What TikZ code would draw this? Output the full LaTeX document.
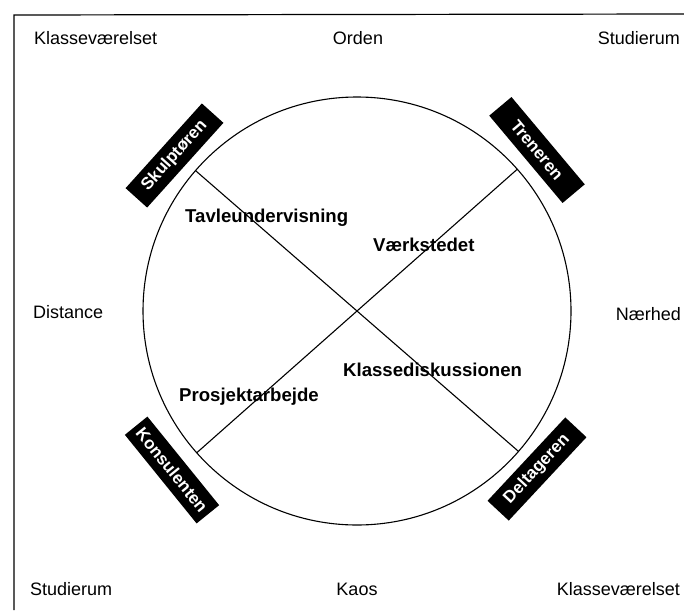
\documentclass[tikz,border=0pt]{standalone}
\usepackage{fontspec}
\setmainfont{Liberation Sans}
\tikzset{
  outer/.style={inner sep=0pt, font=\fontsize{18}{20}\selectfont},
  inner/.style={inner sep=0pt, anchor=west, font=\fontsize{18.6}{20}\selectfont\bfseries},
  rolebox/.style={fill=black, text=white, inner sep=0pt, minimum width=114pt, minimum height=29pt, font=\fontsize{17}{19}\selectfont\bfseries},
  frameline/.style={line width=1.2pt},
  thinline/.style={line width=1.1pt}
}
\begin{document}
\begin{tikzpicture}[x=1pt,y=-1pt]
\useasboundingbox (0,0) rectangle (684,610);
% frame
\coordinate (fbl) at (14,610);
\coordinate (ftl) at (14,15);
\coordinate (ftr) at (684,14);
\draw[frameline] (fbl) -- (ftl) -- (ftr);
% circle
\coordinate (c) at (357,311);
\draw[thinline] (c) circle[radius=214pt];
\coordinate (p1) at (195.5,170.6);
\coordinate (p2) at (518.5,451.4);
\coordinate (p3) at (517.3,169.2);
\coordinate (p4) at (196.7,452.8);
\draw[thinline] (p1) -- (p2);
\draw[thinline] (p3) -- (p4);
% role boxes
\node[rolebox, rotate=48] (skulp) at (174.5,155.5) {Skulptøren};
\node[rolebox, rotate=-50] (tren) at (537,150) {Treneren};
\node[rolebox, rotate=-51] (kons) at (172,470) {Konsulenten};
\node[rolebox, rotate=47] (delt) at (537,469) {Deltageren};
% inner labels
\node[inner] (tavle) at (185,218) {Tavleundervisning};
\node[inner] (vaerk) at (373,245) {Værkstedet};
\node[inner] (klassed) at (343,370) {Klassediskussionen};
\node[inner] (prosj) at (179,397) {Prosjektarbejde};
% outer labels
\node[outer, anchor=west] (kv1) at (34,38) {Klasseværelset};
\node[outer] (orden) at (358,38) {Orden};
\node[outer, anchor=east] (st1) at (680,38) {Studierum};
\node[outer, anchor=west] (dist) at (33,312) {Distance};
\node[outer, anchor=east] (naer) at (681,314) {Nærhed};
\node[outer, anchor=west] (st2) at (30,589) {Studierum};
\node[outer] (kaos) at (357,589) {Kaos};
\node[outer, anchor=east] (kv2) at (680,589) {Klasseværelset};
\end{tikzpicture}
\end{document}
